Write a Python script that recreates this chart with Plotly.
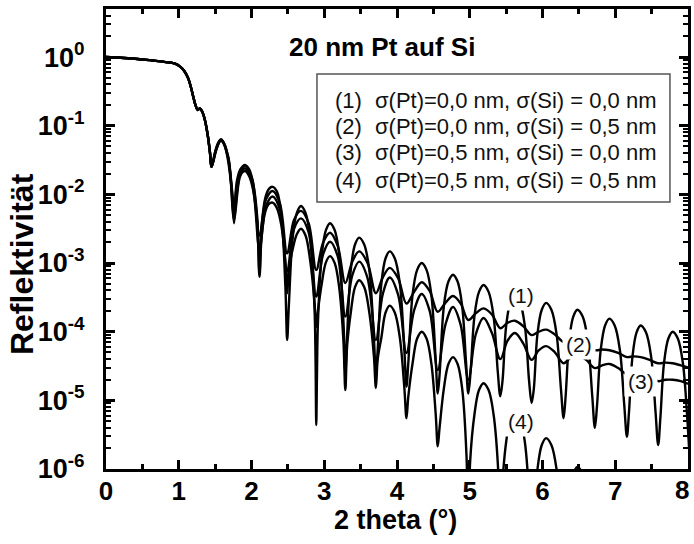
import numpy as np
import plotly.graph_objects as go

# ---------------- data (log10 of reflectivity) ----------------
x_common = [0.0, 0.2, 0.4, 0.6, 0.8, 0.95, 1.02, 1.08, 1.13, 1.17, 1.20, 1.23, 1.26, 1.29, 1.32, 1.36, 1.40, 1.43]
lg_common = [0.0, -0.01, -0.025, -0.045, -0.07, -0.095, -0.14, -0.21, -0.31, -0.45, -0.58, -0.70, -0.77, -0.75, -0.79, -0.92, -1.15, -1.40]

# (1) sigma(Pt)=0.0, sigma(Si)=0.0
x1 = [1.45, 1.50, 1.54, 1.58, 1.63, 1.68, 1.72, 1.745, 1.76,
      1.775, 1.80, 1.85, 1.91,
      1.97, 2.03, 2.08, 2.11,
      2.14, 2.19, 2.24, 2.29,
      2.35, 2.41, 2.466, 2.49,
      2.513, 2.566, 2.623, 2.68,
      2.743, 2.806, 2.865, 2.88, 2.89,
      2.90, 2.913, 2.966, 3.023, 3.08,
      3.143, 3.206, 3.265, 3.29,
      3.313, 3.366, 3.423, 3.48,
      3.549, 3.618, 3.682, 3.71,
      3.733, 3.786, 3.843, 3.90,
      3.969, 4.038, 4.102, 4.13,
      4.155, 4.214, 4.277, 4.34,
      4.406, 4.472, 4.534, 4.56,
      4.585, 4.644, 4.707, 4.77,
      4.833, 4.896, 4.948, 4.98,
      5.012, 5.064, 5.127, 5.19,
      5.259, 5.328, 5.385, 5.42,
      5.45, 5.50, 5.56, 5.62,
      5.689, 5.758, 5.816, 5.85,
      5.88, 5.93, 5.99, 6.05,
      6.122, 6.194, 6.254, 6.29,
      6.318, 6.366, 6.423, 6.48,
      6.552, 6.624, 6.684, 6.72,
      6.75, 6.80, 6.86, 6.92,
      6.992, 7.064, 7.124, 7.16,
      7.189, 7.236, 7.293, 7.35,
      7.422, 7.494, 7.554, 7.59,
      7.62, 7.67, 7.73, 7.79,
      7.86, 7.93, 7.99, 8.02]
lg1 = [-1.60, -1.38, -1.25, -1.20, -1.27, -1.48, -1.80, -2.10, -2.40,
       -2.10, -1.80, -1.63, -1.57,
       -1.64, -1.88, -2.35, -3.15,
       -2.45, -2.05, -1.92, -1.89,
       -1.96, -2.30, -3.35, -4.12,
       -3.63, -2.63, -2.27, -2.17,
       -2.27, -2.63, -3.63, -4.38, -5.36,
       -4.63, -3.88, -2.88, -2.52, -2.42,
       -2.52, -2.88, -3.88, -4.60,
       -4.09, -3.09, -2.73, -2.63,
       -2.73, -3.09, -4.09, -4.60,
       -4.29, -3.29, -2.93, -2.83,
       -2.93, -3.29, -4.29, -4.80,
       -4.46, -3.46, -3.10, -3.00,
       -3.10, -3.46, -4.46, -4.90,
       -4.63, -3.63, -3.27, -3.17,
       -3.27, -3.63, -4.43, -4.90,
       -4.58, -3.78, -3.42, -3.32,
       -3.42, -3.78, -4.58, -4.94,
       -4.72, -3.92, -3.56, -3.46,
       -3.56, -3.92, -4.72, -5.04,
       -4.84, -4.04, -3.68, -3.58,
       -3.68, -4.04, -4.84, -5.26,
       -4.94, -4.14, -3.78, -3.68,
       -3.78, -4.14, -4.94, -5.40,
       -5.07, -4.27, -3.91, -3.81,
       -3.91, -4.27, -5.07, -5.53,
       -5.17, -4.37, -4.01, -3.91,
       -4.01, -4.37, -5.17, -5.65,
       -5.26, -4.46, -4.10, -4.00,
       -4.10, -4.46, -5.26, -5.80]

# (2) sigma(Pt)=0.0, sigma(Si)=0.5
x2 = [1.45, 1.52, 1.58, 1.68, 1.76, 1.84, 1.91, 2.01, 2.11, 2.20, 2.29, 2.39,
      2.49, 2.585, 2.68, 2.785, 2.89, 2.985, 3.08, 3.185, 3.29, 3.385, 3.48, 3.595,
      3.71, 3.805, 3.90, 4.015, 4.13, 4.235, 4.34, 4.45, 4.56, 4.665, 4.77, 4.875,
      4.98, 5.085, 5.19, 5.305, 5.42, 5.52, 5.62, 5.735, 5.85, 5.95, 6.05, 6.17,
      6.29, 6.385, 6.48, 6.60, 6.72, 6.82, 6.92, 7.04, 7.16, 7.255, 7.35, 7.47,
      7.59, 7.69, 7.79, 7.90, 8.0]
lg2 = [-1.60, -1.33, -1.20, -1.45, -2.30, -1.70, -1.58, -1.78, -2.60, -2.07, -1.95, -2.13,
       -2.86, -2.37, -2.24, -2.42, -3.10, -2.70, -2.56, -2.75, -3.29, -2.98, -2.83, -3.00,
       -3.44, -3.21, -3.07, -3.22, -3.59, -3.42, -3.28, -3.41, -3.71, -3.58, -3.48, -3.59,
       -3.83, -3.73, -3.66, -3.75, -3.95, -3.87, -3.84, -3.92, -4.05, -4.00, -3.97, -4.04,
       -4.15, -4.13, -4.12, -4.18, -4.27, -4.26, -4.27, -4.31, -4.37, -4.36, -4.37, -4.41,
       -4.46, -4.45, -4.46, -4.49, -4.52]

# (3) sigma(Pt)=0.5, sigma(Si)=0.0
x3 = [1.45, 1.52, 1.58, 1.68, 1.76, 1.84, 1.91, 2.01, 2.11, 2.20, 2.29, 2.39,
      2.49, 2.585, 2.68, 2.785, 2.89, 2.985, 3.08, 3.185, 3.29, 3.385, 3.48, 3.595,
      3.71, 3.805, 3.90, 4.015, 4.13, 4.235, 4.34, 4.45, 4.56, 4.665, 4.77, 4.875,
      4.98, 5.085, 5.19, 5.305, 5.42, 5.52, 5.62, 5.735, 5.85, 5.95, 6.05, 6.17,
      6.29, 6.385, 6.48, 6.60, 6.72, 6.82, 6.92, 7.04, 7.16, 7.255, 7.35, 7.47,
      7.59, 7.69, 7.79, 7.90, 8.0]
lg3 = [-1.60, -1.34, -1.21, -1.47, -2.35, -1.75, -1.62, -1.84, -2.80, -2.17, -2.03, -2.22,
       -3.12, -2.50, -2.35, -2.55, -3.49, -2.87, -2.69, -2.90, -3.78, -3.18, -2.98, -3.22,
       -4.12, -3.45, -3.21, -3.46, -4.31, -3.69, -3.45, -3.70, -4.56, -3.90, -3.64, -3.90,
       -4.70, -4.03, -3.80, -4.02, -4.40, -4.13, -4.02, -4.17, -4.41, -4.27, -4.21, -4.30,
       -4.46, -4.38, -4.34, -4.41, -4.53, -4.49, -4.47, -4.53, -4.62, -4.60, -4.60, -4.64,
       -4.72, -4.70, -4.70, -4.72, -4.76]

# (4) sigma(Pt)=0.5, sigma(Si)=0.5
x4 = [1.45, 1.50, 1.54, 1.58, 1.63, 1.68, 1.72, 1.745, 1.76,
      1.775, 1.80, 1.85, 1.91,
      1.97, 2.03, 2.08, 2.11,
      2.14, 2.19, 2.24, 2.29,
      2.35, 2.41, 2.466, 2.49,
      2.513, 2.566, 2.623, 2.68,
      2.743, 2.806, 2.865, 2.89,
      2.913, 2.966, 3.023, 3.08,
      3.143, 3.206, 3.262, 3.29,
      3.315, 3.366, 3.423, 3.48,
      3.549, 3.618, 3.682, 3.71,
      3.735, 3.786, 3.843, 3.90,
      3.969, 4.038, 4.100, 4.13,
      4.155, 4.214, 4.277, 4.34,
      4.406, 4.472, 4.532, 4.56,
      4.585, 4.644, 4.707, 4.77,
      4.833, 4.896, 4.955, 4.98,
      5.005, 5.064, 5.127, 5.19,
      5.259, 5.328, 5.39, 5.42,
      5.45, 5.50, 5.56, 5.62,
      5.689, 5.758, 5.816, 5.85,
      5.88, 5.93, 5.99, 6.05,
      6.122, 6.194, 6.254, 6.29,
      6.318, 6.366, 6.423, 6.48,
      6.552, 6.624, 6.684, 6.72]
lg4 = [-1.60, -1.39, -1.27, -1.22, -1.29, -1.52, -1.85, -2.12, -2.42,
       -2.15, -1.87, -1.71, -1.66,
       -1.74, -1.98, -2.45, -3.20,
       -2.60, -2.25, -2.14, -2.12,
       -2.20, -2.45, -3.00, -3.44,
       -3.10, -2.80, -2.58, -2.50,
       -2.60, -2.96, -3.55, -3.93,
       -3.70, -3.30, -2.99, -2.90,
       -3.00, -3.36, -4.10, -4.85,
       -4.20, -3.71, -3.35, -3.25,
       -3.35, -3.71, -4.35, -4.82,
       -4.40, -4.08, -3.72, -3.62,
       -3.72, -4.08, -4.80, -5.26,
       -4.95, -4.46, -4.10, -4.00,
       -4.10, -4.46, -5.20, -5.67,
       -5.40, -4.83, -4.47, -4.37,
       -4.47, -4.83, -5.80, -7.00,
       -5.90, -5.21, -4.85, -4.75,
       -4.85, -5.21, -6.00, -7.20,
       -6.20, -5.61, -5.25, -5.15,
       -5.25, -5.61, -6.40, -7.50,
       -6.60, -6.01, -5.65, -5.55,
       -5.65, -6.01, -6.80, -8.00,
       -7.00, -6.43, -6.07, -5.97,
       -6.07, -6.43, -7.20, -8.50]

curve_names = ["(1)", "(2)", "(3)", "(4)"]
legend_texts = ["σ(Pt)=0,0 nm, σ(Si) = 0,0 nm",
                "σ(Pt)=0,0 nm, σ(Si) = 0,5 nm",
                "σ(Pt)=0,5 nm, σ(Si) = 0,0 nm",
                "σ(Pt)=0,5 nm, σ(Si) = 0,5 nm"]
label_x = [5.71, 6.50, 7.36, 5.71]
label_lg = [-3.48, -4.18, -4.72, -5.31]

y_tickvals = [1e-6, 1e-5, 1e-4, 1e-3, 1e-2, 1e-1, 1e0]
y_ticktext = ["10<sup>-6</sup>", "10<sup>-5</sup>", "10<sup>-4</sup>", "10<sup>-3</sup>",
              "10<sup>-2</sup>", "10<sup>-1</sup>", "10<sup>0</sup>"]
x_tickvals = [0, 1, 2, 3, 4, 5, 6, 7, 8]
x_ticktext = ["0", "1", "2", "3", "4", "5", "6", "7", "8"]

# ---------------- figure ----------------
FONT = "Liberation Sans, Arial, sans-serif"
fig = go.Figure()
series = [(x1, lg1), (x2, lg2), (x3, lg3), (x4, lg4)]
for name, (xs, lgs) in zip(curve_names, series):
    assert len(xs) == len(lgs)
    xx = np.array(x_common + xs)
    yy = 10.0 ** np.array(lg_common + lgs)
    fig.add_trace(go.Scatter(x=xx, y=yy, mode="lines", name=name,
                             line=dict(color="black", width=2.4, shape="spline", smoothing=1.0),
                             showlegend=False, hoverinfo="skip"))

minor_y = [k * 10.0 ** e for e in range(-6, 1) for k in range(2, 10) if k * 10.0 ** e < 5.1]

fig.update_layout(
    width=694, height=544, autosize=False,
    margin=dict(l=106, r=6, t=9, b=75, autoexpand=False),
    paper_bgcolor="white", plot_bgcolor="white",
    font=dict(family=FONT, color="black"),
)
# the last x tick label ("8") is drawn as an annotation so it can sit inside the page edge
fig.update_xaxes(
    range=[0, 8], tickmode="array", tickvals=x_tickvals,
    ticktext=x_ticktext[:-1] + [""], automargin=False,
    ticks="inside", ticklen=9, tickwidth=2.5, tickcolor="black",
    minor=dict(tickmode="array", tickvals=[0.5, 1.5, 2.5, 3.5, 4.5, 5.5, 6.5, 7.5],
               ticks="inside", ticklen=5, tickwidth=2.5, tickcolor="black", showgrid=False),
    showline=True, linewidth=3, linecolor="black", mirror="allticks",
    showgrid=False, zeroline=False,
    tickfont=dict(family=FONT, size=26, weight="bold"),
    ticklabelstandoff=-3,
)
fig.update_yaxes(
    type="log", range=[-6, 0.70], tickmode="array", tickvals=y_tickvals, ticktext=y_ticktext,
    automargin=False,
    ticks="inside", ticklen=9, tickwidth=2.5, tickcolor="black",
    minor=dict(tickmode="array", tickvals=minor_y,
               ticks="inside", ticklen=5, tickwidth=2, tickcolor="black", showgrid=False),
    showline=True, linewidth=3, linecolor="black", mirror="allticks",
    showgrid=False, zeroline=False,
    tickfont=dict(family=FONT, size=27, weight="bold"),
    ticklabelstandoff=13,
)

ann = []
ann.append(dict(text=x_ticktext[-1], x=x_tickvals[-1], xref="x", y=-0.0457, yref="paper",
                showarrow=False, font=dict(family=FONT, size=26, weight="bold"),
                xanchor="right", yanchor="middle", xshift=3))
# axis titles
ann.append(dict(text="2 theta (°)", x=0.4966, y=-0.111, xref="paper", yref="paper",
                showarrow=False, font=dict(family=FONT, size=27, weight="bold"),
                xanchor="center", yanchor="middle"))
ann.append(dict(text="Reflektivität", x=-0.143, y=0.445, xref="paper", yref="paper",
                showarrow=False, textangle=-90, font=dict(family=FONT, size=32, weight="bold"),
                xanchor="center", yanchor="middle"))
# chart title
ann.append(dict(text="20 nm Pt auf Si", x=0.475, y=0.917, xref="paper", yref="paper",
                showarrow=False, font=dict(family=FONT, size=26, weight="bold"),
                xanchor="center", yanchor="middle"))
# legend box text
row_y = [0.802, 0.7435, 0.687, 0.628]
for nm, txt, ry in zip(curve_names, legend_texts, row_y):
    ann.append(dict(text=nm, x=0.390, y=ry, xref="paper", yref="paper", showarrow=False,
                    font=dict(family=FONT, size=22, color="#111"), xanchor="left", yanchor="middle"))
    ann.append(dict(text=txt, x=0.459, y=ry, xref="paper", yref="paper", showarrow=False,
                    font=dict(family=FONT, size=22, color="#111"), xanchor="left", yanchor="middle"))
# curve labels with white background
for nm, lx, ly in zip(curve_names, label_x, label_lg):
    ann.append(dict(text=nm, x=lx, y=ly, xref="x", yref="y", showarrow=False,
                    font=dict(family=FONT, size=21, color="#111"), bgcolor="white",
                    borderpad=3, xanchor="center", yanchor="middle"))
fig.update_layout(annotations=ann)

fig.add_shape(type="rect", xref="paper", yref="paper", x0=0.3625, x1=0.969, y0=0.5804, y1=0.8587,
              line=dict(color="#555555", width=1.5), fillcolor="rgba(0,0,0,0)", layer="above")

fig.write_html("out.html")
